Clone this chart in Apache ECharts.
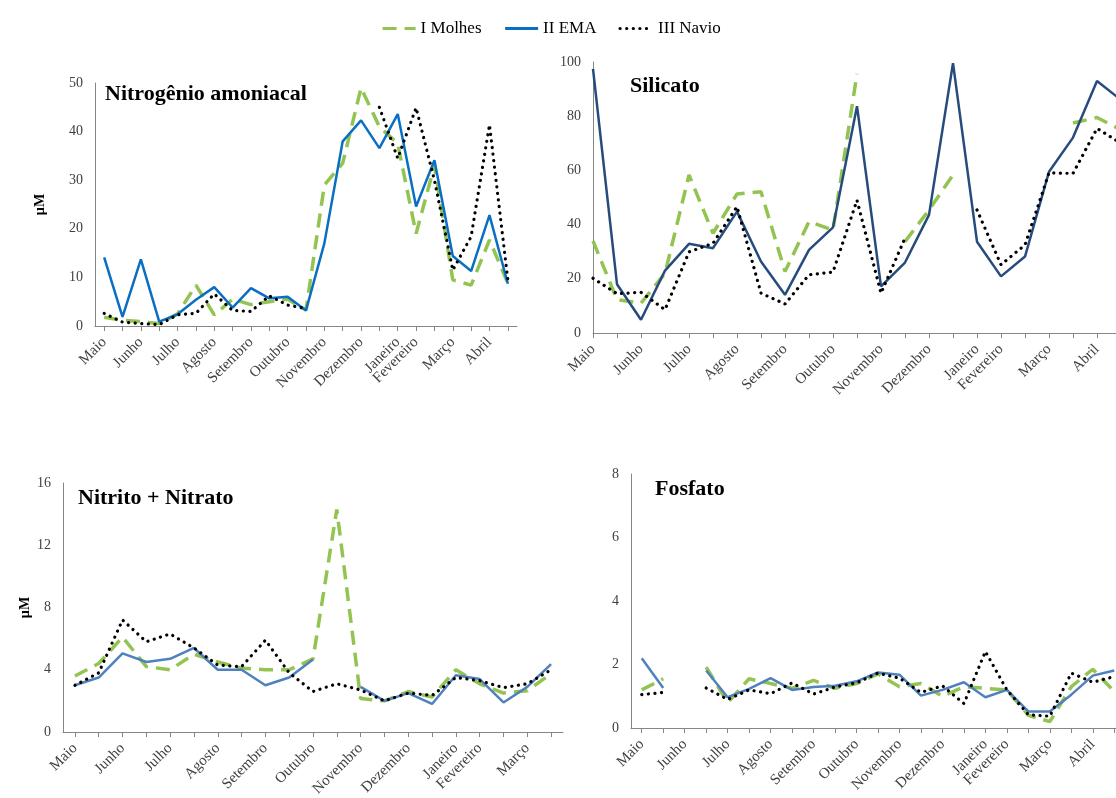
<!DOCTYPE html>
<html>
<head>
<meta charset="utf-8">
<title>Nutrientes</title>
<script src="https://cdn.jsdelivr.net/npm/echarts@6.0.0/dist/echarts.min.js"></script>
<style>
  html, body { margin: 0; padding: 0; background: #fff; }
  #chart { width: 1116px; height: 798px; }
</style>
</head>
<body>
<div id="chart"></div>
<script>
// category labels (samples every ~2 weeks, only some carry a month name)
const months23 = ['Maio', '', 'Junho', '', 'Julho', '', 'Agosto', '', 'Setembro', '', 'Outubro', '',
  'Novembro', '', 'Dezembro', '', 'Janeiro', 'Fevereiro', '', 'Março', '', 'Abril', ''];
const months21 = ['Maio', '', 'Junho', '', 'Julho', '', 'Agosto', '', 'Setembro', '', 'Outubro', '',
  'Novembro', '', 'Dezembro', '', 'Janeiro', 'Fevereiro', '', 'Março', ''];

// Nitrogênio amoniacal (µM)
const amonMolhes = [1.8, 1.2, 0.9, 0.5, 2.5, 8.4, 2.3, 5.5, 4.4, 5.0, 5.5, 3.3, 29, 33.5, 49, 41, 37.5, 19, 33, 9.5, 8.4, 17.7, 8.8];
const amonEma = [14.1, 1.9, 13.7, 0.9, 2.4, 5.4, 8.0, 3.8, 7.8, 5.7, 6.0, 3.2, 17.0, 38.0, 42.3, 36.6, 43.6, 24.6, 34.1, 14.4, 11.3, 22.8, 8.7];
const amonNavio = [2.6, 0.8, 0.5, 0.3, 2.3, 2.6, 6.6, 3.2, 3.0, 6.2, 4.3, 3.6, null, null, null, 45, 34.5, 44.9, 30, 11.5, 18.4, 41.4, 9.5];

// Silicato
const silMolhes = [34, 12.3, 11.0, 22, 58.3, 36.8, 51.3, 52.1, 22.7, 41.1, 38.0, 95.7, null, 33.7, 45.4, 58.3, null, null, null, null, 77.5, 79.5, 75];
const silEma = [97.5, 18.0, 4.9, 23, 32.9, 31.3, 44.8, 26.4, 14.1, 30.7, 39.0, 83.7, 17.2, 26.0, 43.6, 99.6, 33.7, 20.9, 28.2, 59.5, 72.1, 93.0, 86];
const silNavio = [20.2, 14.5, 15.0, 8.6, 29.9, 33.1, 46.6, 14.7, 10.7, 21.5, 22.5, 49, 14.7, 35, null, null, 45.4, 25.2, 32.5, 59.1, 58.9, 75.5, 70];

// Nitrito + Nitrato
const nitMolhes = [3.6, 4.4, 6.1, 4.2, 4.0, 5.0, 4.5, 4.1, 4.0, 4.0, 4.7, 14.3, 2.15, 2.0, 2.6, 2.25, 4.0, 3.1, 2.5, 2.65, 3.75];
const nitEma = [3.0, 3.5, 5.05, 4.5, 4.7, 5.4, 4.0, 4.0, 3.0, 3.5, 4.66, null, 2.9, 2.0, 2.5, 1.8, 3.65, 3.4, 1.9, 2.9, 4.36];
const nitNavio = [3.0, 3.8, 7.2, 5.8, 6.3, 5.4, 4.3, 4.2, 5.9, 3.8, 2.6, 3.1, 2.7, 2.0, 2.5, 2.35, 3.5, 3.3, 2.85, 3.1, 4.0];

// Fosfato
const fosMolhes = [1.2, 1.55, null, 1.92, 0.8, 1.55, 1.4, 1.25, 1.5, 1.25, 1.4, 1.7, 1.3, 1.4, 1.0, 1.3, 1.25, 1.2, 0.4, 0.2, 1.3, 1.85, 1.15];
const fosEma = [2.2, 1.26, null, 1.81, 0.97, 1.23, 1.57, 1.2, 1.29, 1.33, 1.47, 1.75, 1.68, 1.02, 1.2, 1.44, 0.97, 1.2, 0.52, 0.52, 1.05, 1.65, 1.81];
const fosNavio = [1.05, 1.12, null, 1.26, 0.9, 1.2, 1.08, 1.42, 1.07, 1.29, 1.42, 1.73, 1.57, 1.12, 1.33, 0.77, 2.41, 1.2, 0.42, 0.37, 1.73, 1.44, 1.62];

const FONT = 'Liberation Serif, Times New Roman, serif';
const AXIS_GRAY = '#868686';
const GREEN = '#93c452';

function xAx(gridIndex, data, gap) {
  return {
    type: 'category',
    gridIndex: gridIndex,
    data: data,
    boundaryGap: gap,
    axisLine: { show: true, lineStyle: { color: AXIS_GRAY, width: 1 } },
    axisTick: { show: true, alignWithLabel: true, length: 5, lineStyle: { color: AXIS_GRAY } },
    axisLabel: {
      interval: 0,
      rotate: 45,
      margin: 14,
      fontFamily: FONT,
      fontSize: 15,
      color: '#404040'
    },
    splitLine: { show: false }
  };
}

function yAx(gridIndex, max, interval, name, nameGap) {
  return {
    type: 'value',
    gridIndex: gridIndex,
    min: 0,
    max: max,
    interval: interval,
    name: name,
    nameLocation: 'middle',
    nameRotate: 90,
    nameGap: nameGap,
    nameTextStyle: { fontFamily: FONT, fontSize: 14, fontWeight: 'bold', color: '#000' },
    axisLine: { show: true, lineStyle: { color: AXIS_GRAY, width: 1 } },
    axisTick: { show: false },
    axisLabel: { margin: 12, fontFamily: FONT, fontSize: 14, color: '#404040' },
    splitLine: { show: false }
  };
}

function panelSeries(idx, molhes, ema, navio, emaColor) {
  return [
    {
      name: 'I Molhes', type: 'line', xAxisIndex: idx, yAxisIndex: idx,
      symbol: 'none', data: molhes, color: GREEN,
      lineStyle: { color: GREEN, width: 3.5, type: [14, 8] }
    },
    {
      name: 'II EMA', type: 'line', xAxisIndex: idx, yAxisIndex: idx,
      symbol: 'none', data: ema, color: emaColor,
      lineStyle: { color: emaColor, width: 2.5 }
    },
    {
      name: 'III Navio', type: 'line', xAxisIndex: idx, yAxisIndex: idx,
      symbol: 'none', data: navio, color: '#000',
      lineStyle: { color: '#000', width: 3.2, type: [0.1, 6.5], cap: 'round' }
    }
  ];
}

function panelTitle(text, left, top) {
  return {
    text: text, left: left, top: top, padding: 0,
    textStyle: { fontFamily: FONT, fontSize: 22, fontWeight: 'bold', color: '#000' }
  };
}

const chart = echarts.init(document.getElementById('chart'), null, { renderer: 'canvas' });

const option = {
  backgroundColor: '#fff',
  animation: false,
  title: [
    panelTitle('Nitrogênio amoniacal', 105, 83),
    panelTitle('Silicato', 630, 75),
    panelTitle('Nitrito + Nitrato', 78, 487),
    panelTitle('Fosfato', 655, 478)
  ],
  legend: {
    data: ['I Molhes', 'II EMA', 'III Navio'],
    left: 381,
    top: 20,
    padding: 0,
    itemWidth: 33,
    itemHeight: 14,
    itemGap: 22,
    // hide the symbol that line series put in the middle of the legend line
    itemStyle: { color: 'rgba(0,0,0,0)', borderWidth: 0 },
    lineStyle: { width: 3.2 },
    textStyle: { fontFamily: FONT, fontSize: 17, color: '#000' }
  },
  grid: [
    { left: 95, top: 83, width: 422, height: 243, outerBoundsMode: 'none' },
    { left: 593, top: 62, width: 528, height: 271, outerBoundsMode: 'none' },
    { left: 63, top: 483, width: 500, height: 249, outerBoundsMode: 'none' },
    { left: 631, top: 474, width: 494, height: 254, outerBoundsMode: 'none' }
  ],
  xAxis: [
    xAx(0, months23, true),
    xAx(1, months23, false),
    xAx(2, months21, true),
    xAx(3, months23, true)
  ],
  yAxis: [
    yAx(0, 50, 10, 'µM', 48),
    yAx(1, 100, 20, '', 0),
    yAx(2, 16, 4, 'µM', 31),
    yAx(3, 8, 2, '', 0)
  ],
  series: [].concat(
    panelSeries(0, amonMolhes, amonEma, amonNavio, '#0a6fc2'),
    panelSeries(1, silMolhes, silEma, silNavio, '#264b7d'),
    panelSeries(2, nitMolhes, nitEma, nitNavio, '#4f81bd'),
    panelSeries(3, fosMolhes, fosEma, fosNavio, '#4f81bd')
  )
};

chart.setOption(option);
</script>
</body>
</html>
